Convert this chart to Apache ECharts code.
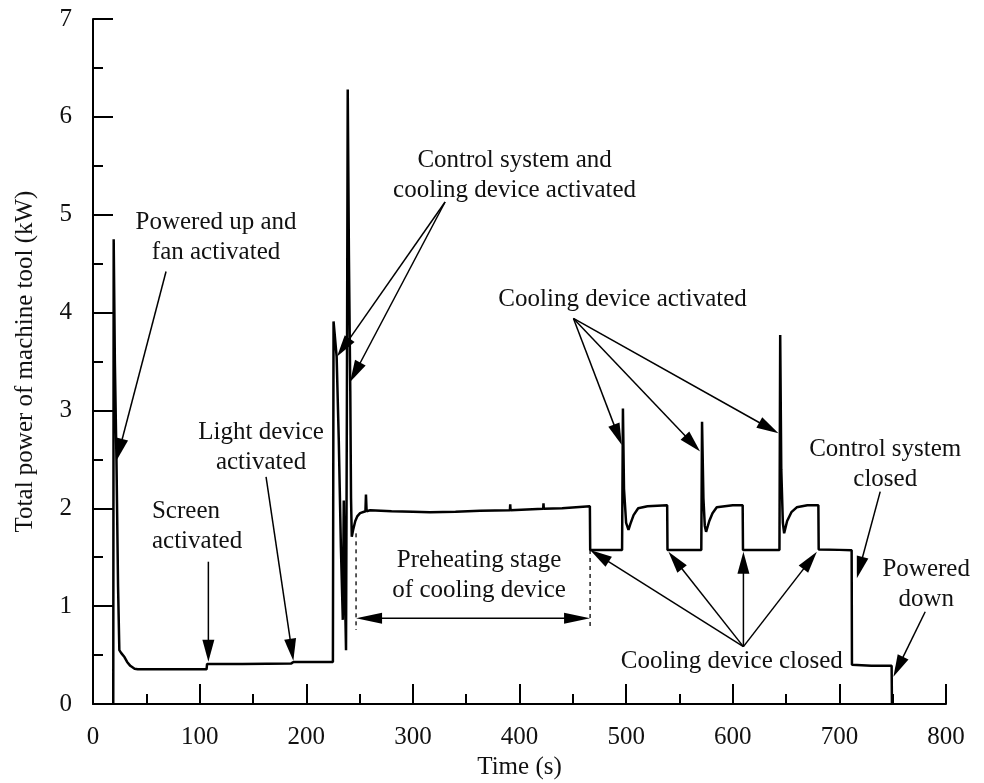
<!DOCTYPE html>
<html><head><meta charset="utf-8">
<script src="https://cdn.jsdelivr.net/npm/echarts@6/dist/echarts.min.js"></script>
<style>html,body{margin:0;padding:0;background:#fff}#c{width:984px;height:783px}</style>
</head><body><div id="c"></div>
<script>
// ---- data: total power of machine tool over time ----
const timeS = [19.0, 19.4, 20.5, 22.0, 23.5, 24.7, 26.5, 28, 29.5, 32, 35, 39, 42, 70, 106.5, 107, 140, 186, 188, 225.0,
  225.6, 226.5, 228.5, 230.5, 232.5, 234.3, 235.2, 236.2, 237.3, 238.1, 238.9, 240.0, 241.3, 242.0, 242.7, 244, 246, 248, 250.5, 255.5,
  256, 256.6, 260, 280, 300, 316, 340, 363, 391, 391.3, 391.6, 422.2, 422.5, 422.8, 440, 466, 466.3, 480, 496.2, 497,
  498, 500, 502.2, 504, 507, 511.3, 520, 538.5, 538.8, 555, 570.5, 571.2, 572.5, 573.8, 575, 578, 581, 585, 600, 609.3,
  609.6, 625, 643.8, 644.5, 645.5, 647, 648.2, 651, 655, 660, 670, 680.3, 680.6, 700, 711.5, 711.8, 730, 749, 749.3];
const powerKW = [0, 4.75, 3.5, 2.5, 1.2, 0.55, 0.52, 0.5, 0.48, 0.43, 0.39, 0.36, 0.355, 0.355, 0.355, 0.41, 0.41, 0.415, 0.43, 0.43,
  3.91, 3.8, 3.55, 2.7, 1.6, 0.86, 2.08, 1.2, 0.55, 3.0, 6.28, 4.6, 3.2, 2.1, 1.71, 1.78, 1.87, 1.92, 1.95, 1.97,
  2.14, 1.97, 1.98, 1.97, 1.965, 1.96, 1.965, 1.975, 1.98, 2.04, 1.98, 1.995, 2.05, 1.995, 2.0, 2.02, 1.575, 1.575, 1.575, 3.02,
  2.2, 1.85, 1.78, 1.84, 1.93, 2.0, 2.02, 2.03, 1.575, 1.575, 1.575, 2.885, 2.1, 1.82, 1.76, 1.87, 1.95, 2.01, 2.03, 2.03,
  1.575, 1.575, 1.575, 3.77, 2.4, 1.85, 1.745, 1.87, 1.96, 2.01, 2.03, 2.03, 1.58, 1.575, 1.57, 0.40, 0.39, 0.39, 0];

// ---- axis ticks ----
const xTicks = [0, 100, 200, 300, 400, 500, 600, 700, 800];
const yTicks = [0, 1, 2, 3, 4, 5, 6, 7];

// ---- annotations (data coordinates) ----
const labelTexts = ['Powered up and\nfan activated', 'Screen\nactivated', 'Light device\nactivated',
  'Control system and\ncooling device activated', 'Cooling device activated', 'Preheating stage\nof cooling device',
  'Cooling device closed', 'Control system\nclosed', 'Powered\ndown'];
const labelT = [115.4, 55.3, 157.6, 395.4, 496.7, 362.1, 599.1, 743.0, 781.4];
const labelP = [4.77, 1.81, 2.62, 5.40, 4.13, 1.318, 0.432, 2.45, 1.224];

const arrowFromT = [68.5, 108.2, 162.3, 330.2, 330.2, 450.6, 450.6, 450.6, 610.0, 610.0, 610.0, 610.0, 738.3, 780.5, 246.7];
const arrowFromP = [4.42, 1.454, 2.32, 5.13, 5.13, 3.94, 3.94, 3.94, 0.586, 0.586, 0.586, 0.586, 2.17, 0.943, 0.876];
const arrowToT   = [22.2, 108.2, 187.9, 228.9, 241.1, 495.9, 569.4, 642.9, 466.2, 539.7, 610.0, 678.9, 716.4, 750.7, 466.2];
const arrowToP   = [2.49, 0.432, 0.442, 3.55, 3.29, 2.646, 2.58, 2.766, 1.574, 1.556, 1.556, 1.556, 1.285, 0.279, 0.876];
const arrowHeads = [1, 1, 1, 1, 1, 1, 1, 1, 1, 1, 1, 1, 1, 1, 2];

const dashT  = [246.7, 466.2];
const dashP1 = [1.744, 1.574];
const dashP2 = [0.756, 0.756];

// ---- rendering ----
const FONT = '"Liberation Serif","Times New Roman",Times,serif';
const labelAlign = ['center', 'left', 'center', 'center', 'center', 'center', 'center', 'center', 'center'];

const chart = echarts.init(document.getElementById('c'), null, {renderer: 'canvas'});

function renderArrow(params, api) {
  const a = api.coord([api.value(0), api.value(1)]);
  const b = api.coord([api.value(2), api.value(3)]);
  const heads = api.value(4);
  const L = heads === 2 ? 26 : 22, W = heads === 2 ? 11 : 12;
  const dx = b[0] - a[0], dy = b[1] - a[1], len = Math.hypot(dx, dy);
  const ux = dx / len, uy = dy / len, nx = -uy, ny = ux;
  const head = (tip, sx, sy) => ({
    type: 'polygon',
    shape: {points: [[tip[0], tip[1]],
      [tip[0] - sx * L + nx * W / 2, tip[1] - sy * L + ny * W / 2],
      [tip[0] - sx * L - nx * W / 2, tip[1] - sy * L - ny * W / 2]]},
    style: {fill: '#000'}
  });
  const end = [b[0] - ux * L * 0.8, b[1] - uy * L * 0.8];
  const start = heads === 2 ? [a[0] + ux * L * 0.8, a[1] + uy * L * 0.8] : a;
  const children = [
    {type: 'line', shape: {x1: start[0], y1: start[1], x2: end[0], y2: end[1]}, style: {stroke: '#000', lineWidth: 1.5}},
    head(b, ux, uy)
  ];
  if (heads === 2) children.push(head(a, -ux, -uy));
  return {type: 'group', children: children};
}

function renderDash(params, api) {
  const a = api.coord([api.value(0), api.value(1)]);
  const b = api.coord([api.value(0), api.value(2)]);
  return {type: 'line', shape: {x1: a[0], y1: a[1], x2: b[0], y2: b[1]},
    style: {stroke: '#000', lineWidth: 1.3, lineDash: [4, 4]}};
}

function renderText(params, api) {
  const i = params.dataIndex;
  const p = api.coord([api.value(0), api.value(1)]);
  return {type: 'text', x: p[0], y: p[1],
    style: {text: labelTexts[i], fill: '#111', fontSize: 25, fontFamily: FONT,
      align: labelAlign[i], textAlign: labelAlign[i], verticalAlign: 'middle', textVerticalAlign: 'middle', lineHeight: 30}};
}

const axisCommon = {
  type: 'value',
  axisLine: {show: true, onZero: false, lineStyle: {color: '#000', width: 2}},
  axisTick: {show: true, inside: true, length: 20, lineStyle: {color: '#000', width: 2}},
  minorTick: {show: true, splitNumber: 2, length: 10, lineStyle: {color: '#000', width: 2}},
  splitLine: {show: false},
  minorSplitLine: {show: false},
  nameLocation: 'middle',
  nameTextStyle: {color: '#111', fontSize: 25, fontFamily: FONT}
};

chart.setOption({
  animation: false,
  backgroundColor: '#fff',
  grid: {left: 93, right: 38, top: 19, bottom: 79, containLabel: false, outerBoundsMode: 'none'},
  xAxis: Object.assign({}, axisCommon, {
    min: xTicks[0], max: xTicks[xTicks.length - 1], interval: xTicks[1] - xTicks[0],
    name: 'Time (s)', nameGap: 48,
    axisLabel: {color: '#111', fontSize: 25, fontFamily: FONT, margin: 21}
  }),
  yAxis: Object.assign({}, axisCommon, {
    min: yTicks[0], max: yTicks[yTicks.length - 1], interval: yTicks[1] - yTicks[0],
    name: 'Total power of machine tool (kW)', nameGap: 55, nameRotate: 90,
    axisLabel: {color: '#111', fontSize: 25, fontFamily: FONT, margin: 21}
  }),
  series: [
    {
      type: 'line', data: timeS.map((t, i) => [t, powerKW[i]]),
      showSymbol: false, symbol: 'none', silent: true,
      lineStyle: {color: '#000', width: 2.5}, z: 3
    },
    {
      type: 'custom', renderItem: renderArrow, clip: false, silent: true, z: 4,
      encode: {x: [0, 2], y: [1, 3]},
      data: arrowFromT.map((t, i) => [t, arrowFromP[i], arrowToT[i], arrowToP[i], arrowHeads[i]])
    },
    {
      type: 'custom', renderItem: renderDash, clip: false, silent: true, z: 4,
      encode: {x: 0, y: [1, 2]},
      data: dashT.map((t, i) => [t, dashP1[i], dashP2[i]])
    },
    {
      type: 'custom', renderItem: renderText, clip: false, silent: true, z: 5,
      encode: {x: 0, y: 1},
      data: labelT.map((t, i) => [t, labelP[i]])
    }
  ]
});
</script></body></html>
